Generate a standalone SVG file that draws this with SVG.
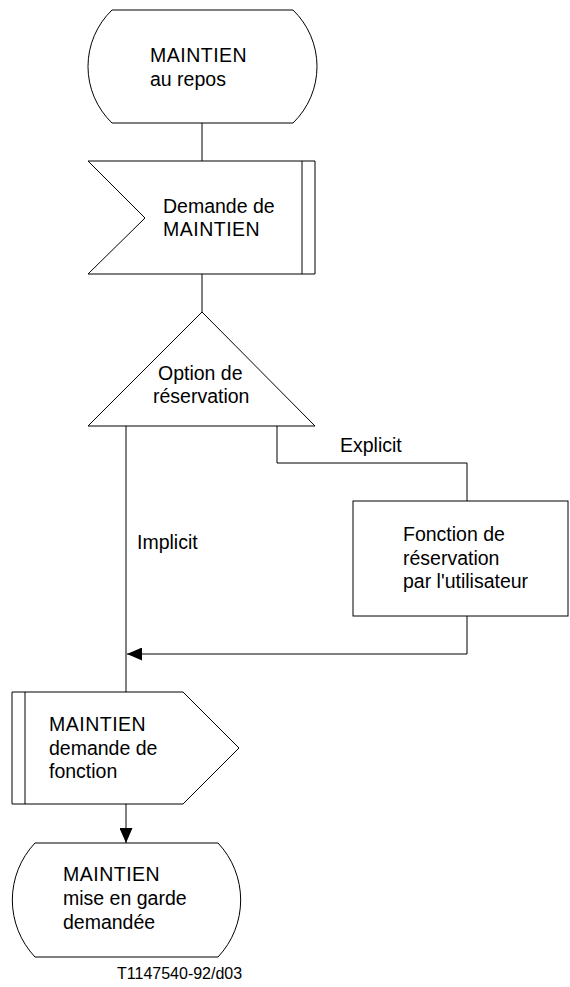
<svg xmlns="http://www.w3.org/2000/svg" width="570" height="987" viewBox="0 0 570 987">
<style>
.s{fill:#fff;stroke:#000;stroke-width:1}
.c{fill:none;stroke:#000;stroke-width:1}
text{font-family:"Liberation Sans",Arial,sans-serif;font-size:19.5px;fill:#000}
.f{font-size:16px}
</style>
<defs>
<marker id="ah" markerUnits="userSpaceOnUse" markerWidth="15" markerHeight="13" refX="15" refY="6.5" orient="auto">
<path d="M0,0 L15,6.5 L0,13 Z" fill="#000"/>
</marker>
</defs>
<rect width="570" height="987" fill="#fff"/>
<g id="connectors">
<path class="c" d="M202,123 V161"/>
<path class="c" d="M202,274 V312"/>
<path class="c" d="M126,426 V692"/>
<path class="c" d="M277,426 V463 H467 V501"/>
<path class="c" d="M467,616 V654 H127" marker-end="url(#ah)"/>
<path class="c" d="M126,804 V843" marker-end="url(#ah)"/>
<text x="340" y="452">Explicit</text>
<text x="137" y="549">Implicit</text>
</g>
<g id="n1">
<path class="s" d="M112,10 L293,10 A78.5,78.5 0 0 1 293,123 L112,123 A78.5,78.5 0 0 1 112,10 Z"/>
<text x="150" y="62" letter-spacing="0.5">MAINTIEN</text>
<text x="150" y="86">au repos</text>
</g>
<g id="n2">
<path class="s" d="M88,161 L315,161 L315,274 L88,274 L145,218 Z"/>
<path class="c" d="M302,161 V274"/>
<text x="163" y="213">Demande de</text>
<text x="163" y="236" letter-spacing="0.5">MAINTIEN</text>
</g>
<g id="n3">
<path class="s" d="M202,312 L315,426 L88,426 Z"/>
<text x="158" y="380">Option de</text>
<text x="153" y="403">réservation</text>
</g>
<g id="n4">
<rect class="s" x="353" y="501" width="215" height="115"/>
<text x="403" y="541">Fonction de</text>
<text x="403" y="565">réservation</text>
<text x="403" y="588">par l'utilisateur</text>
</g>
<g id="n5">
<path class="s" d="M12,692 L183,692 L239,748 L183,804 L12,804 Z"/>
<path class="c" d="M25,692 V804"/>
<text x="49" y="731" letter-spacing="0.5">MAINTIEN</text>
<text x="49" y="755">demande de</text>
<text x="49" y="778">fonction</text>
</g>
<g id="n6">
<path class="s" d="M35,843 L218,843 A83,83 0 0 1 218,957 L35,957 A83,83 0 0 1 35,843 Z"/>
<text x="63" y="881" letter-spacing="0.5">MAINTIEN</text>
<text x="63" y="905">mise en garde</text>
<text x="63" y="929">demandée</text>
</g>
<text class="f" x="117" y="979">T1147540-92/d03</text>
</svg>
